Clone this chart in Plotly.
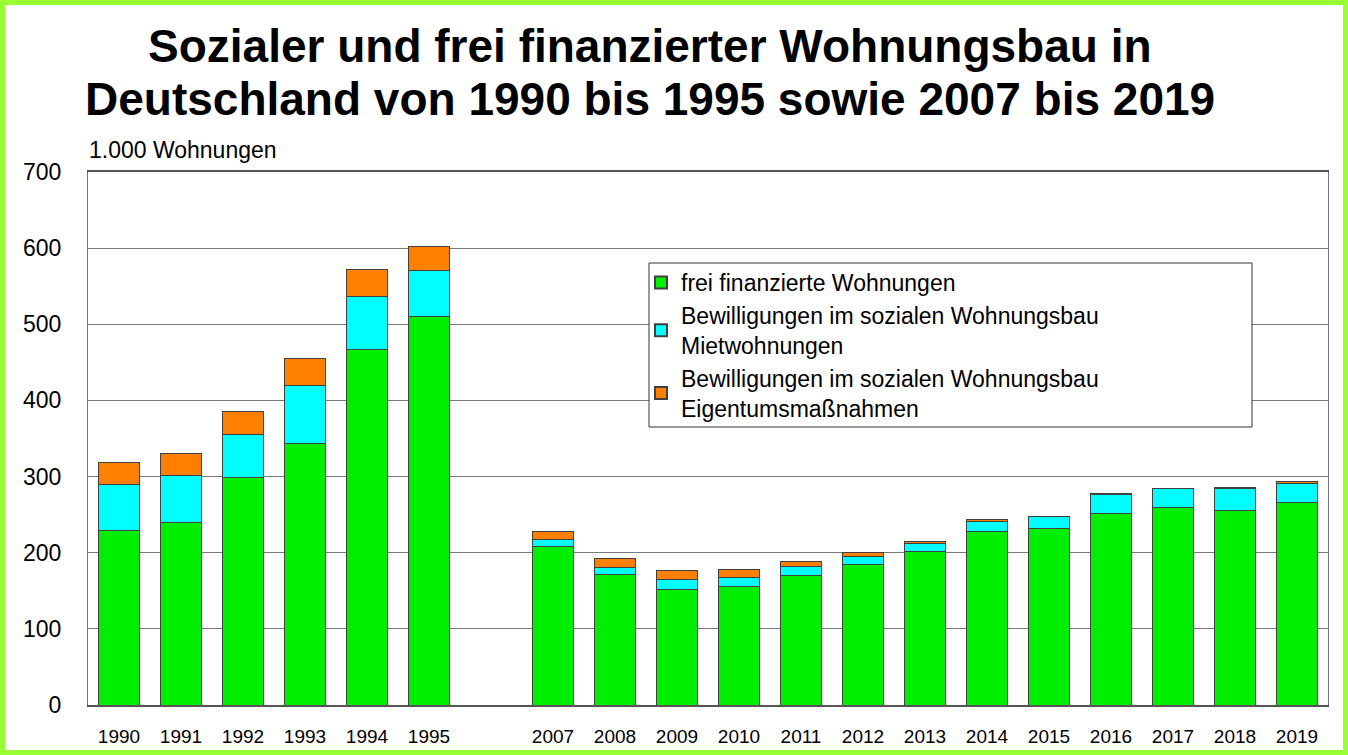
import plotly.graph_objects as go

years = ["1990", "1991", "1992", "1993", "1994", "1995",
         "2007", "2008", "2009", "2010", "2011", "2012", "2013",
         "2014", "2015", "2016", "2017", "2018", "2019"]
frei = [229, 240, 299, 344, 467, 510,
        208, 171, 152, 156, 170, 184, 202, 228, 232, 251, 259, 256, 266]
miet = [60, 62, 56, 76, 69, 60,
        10, 10, 13, 12, 12, 11, 10, 13, 15, 25, 25, 28, 25]
eigentum = [29, 28, 30, 35, 36, 32,
            10, 11, 11, 10, 6, 5, 3, 3, 1, 2, 0.5, 2, 2]
gap_label = " "
category_order = years[:6] + [gap_label] + years[6:]

names = ["frei finanzierte Wohnungen",
         "Bewilligungen im sozialen Wohnungsbau<br>Mietwohnungen",
         "Bewilligungen im sozialen Wohnungsbau<br>Eigentumsmaßnahmen"]
colors = ["#00EE00", "#00FFFF", "#FF8000"]
title_lines = ["Sozialer und frei finanzierter Wohnungsbau in",
               "Deutschland von 1990 bis 1995 sowie 2007 bis 2019"]

fig = go.Figure()
for vals, name, col in zip([frei, miet, eigentum], names, colors):
    fig.add_trace(go.Bar(x=years, y=vals, name=name,
                         marker=dict(color=col, line=dict(color="#404040", width=1)),
                         width=0.65))

W, H = 1348, 755
ml, mr, mt, mb = 88, 20, 172, 50
pw, ph = W - ml - mr, H - mt - mb

def py(pix):
    """paper y from pixel row"""
    return (H - mb - pix) / ph

def px(pix):
    return (pix - ml) / pw

FONT = "Liberation Sans, Arial, sans-serif"

annotations = [dict(text="1.000 Wohnungen", xref="paper", yref="paper",
                    x=px(87), y=py(150), xanchor="left", yanchor="middle",
                    showarrow=False, font=dict(size=23, family=FONT))]
for line, ycen in zip(title_lines, [46, 99]):
    annotations.append(dict(text="<b>" + line + "</b>", xref="paper", yref="paper",
                            x=px(650), y=py(ycen), xanchor="center", yanchor="middle",
                            showarrow=False, font=dict(size=46, family=FONT)))

fig.update_layout(
    width=W, height=H,
    barmode="stack",
    paper_bgcolor="white", plot_bgcolor="white",
    margin=dict(l=ml, r=mr, t=mt, b=mb, autoexpand=False),
    font=dict(family=FONT, color="black"),
    showlegend=True,
    legend=dict(x=px(641), y=py(261), xanchor="left", yanchor="top",
                traceorder="normal", bgcolor="rgba(0,0,0,0)",
                borderwidth=0,
                font=dict(size=23), itemsizing="constant",
                tracegroupgap=2),
    xaxis=dict(type="category", categoryorder="array", categoryarray=category_order,
               range=[-0.5, 19.5], showgrid=False, automargin=False,
               showline=True, linecolor="#555555", linewidth=2, mirror=True,
               tickfont=dict(size=19), ticks="", ticklabelstandoff=13),
    yaxis=dict(range=[0, 700], dtick=100, showgrid=True, gridcolor="#7a7a7a", gridwidth=1,
               automargin=False,
               showline=True, linecolor="#777777", linewidth=1, mirror=True,
               tickfont=dict(size=23), ticks="", ticklabelstandoff=21, zeroline=False),
    annotations=annotations,
    shapes=[
        # legend frame
        dict(type="rect", xref="paper", yref="paper",
             x0=px(649), x1=px(1252), y0=py(427), y1=py(263),
             fillcolor="white", line=dict(color="#333333", width=1), layer="above"),
        # outer green frame
        dict(type="rect", xref="paper", yref="paper",
             x0=-(ml - 2.5) / pw, x1=1 + (mr - 2.5) / pw,
             y0=-(mb - 2.5) / ph, y1=1 + (mt - 2.5) / ph,
             line=dict(color="#99FF33", width=5), layer="above"),
    ],
)

fig.write_html("out.html", config={"displayModeBar": False},
               post_script="document.body.style.margin='0px';")
